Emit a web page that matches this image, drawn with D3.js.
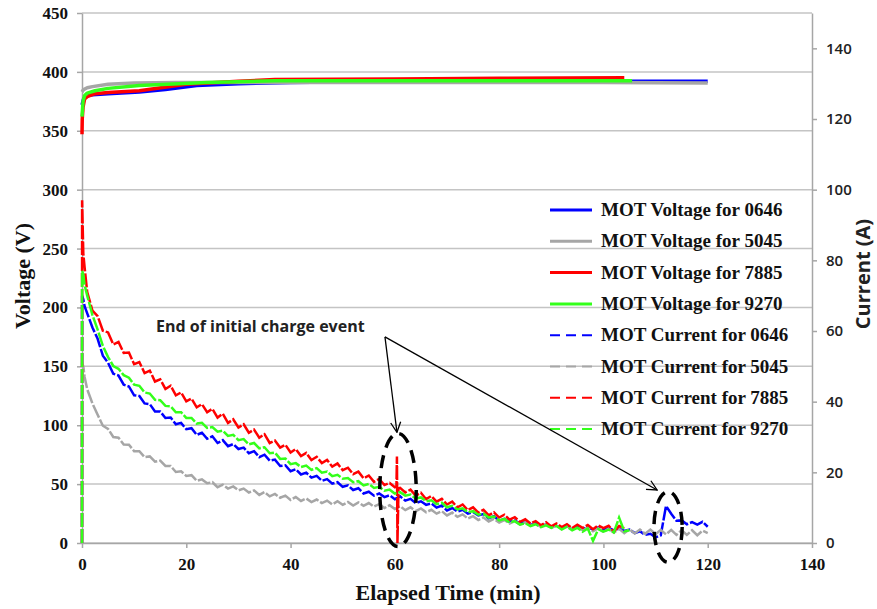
<!DOCTYPE html>
<meta charset="utf-8">
<head>
<title>MOT Voltage and Current</title>
<script src="https://d3js.org/d3.v7.min.js"></script>
<style>
  body { margin: 0; background: #fff; }
</style>
</head>
<body>
<div id="chart"></div>
<script>

    // ---- data ----
    const units = ["0646", "5045", "7885", "9270"];
    const colors = ["#0000ff", "#a6a6a6", "#ff0000", "#33ff1a"];

    const xTicks = [0, 20, 40, 60, 80, 100, 120, 140];
    const voltTicks = [0, 50, 100, 150, 200, 250, 300, 350, 400, 450];
    const ampTicks = [0, 20, 40, 60, 80, 100, 120, 140];

    // MOT voltage (V), time in minutes
    const voltTime0646 = [0, 0.3, 1, 2, 5, 11, 16, 22, 30, 40, 60, 80, 100, 120];
    const volt0646 = [372, 377, 380, 380.5, 381.5, 383, 385, 388.5, 390, 391, 392, 392, 392, 392];
    const voltTime5045 = [0, 0.3, 1, 2, 5, 10, 18, 30, 40, 60, 80, 100, 120];
    const volt5045 = [383, 385, 386.5, 387.5, 389.5, 390.5, 391, 391, 391, 391, 391, 391, 390.5];
    const voltTime7885 = [0, 0.05, 0.2, 0.5, 1, 2.5, 5, 11, 20, 30, 37, 60, 80, 104];
    const volt7885 = [347, 360, 370, 377, 379, 381.5, 382.5, 384, 389.5, 392, 393.5, 394, 394.5, 395];
    const voltTime9270 = [0, 0.2, 0.5, 1, 2.5, 5, 11, 24, 37, 60, 80, 105.5];
    const volt9270 = [362, 375, 380, 382, 384, 386, 388.5, 391, 392.5, 392.5, 392.5, 392.5];

    // MOT current (A): first seconds as [min, A], then one reading per minute from minute 1
    const curHead0646 = [[0, 0], [0.02, 70], [0.25, 69], [0.5, 67]];
    const cur0646 = [65, 61, 57.8, 53, 51, 47.9, 47.4, 44.8, 44.3, 41.8,
        41.6, 39.5, 39.3, 37.2, 37.2, 35.4, 35.5, 33.6, 34, 32.2,
        32.5, 30.6, 31.2, 29.5, 30.2, 28.3, 29.1, 27.4, 28, 26.6,
        27, 25.4, 26, 24.3, 25, 23.3, 23.6, 21.8, 22, 20.3,
        20.9, 19.4, 19.9, 18.5, 19, 17.6, 18.1, 16.8, 17.2, 15.9,
        16.3, 15, 15.5, 14, 14.5, 13.4, 14, 13, 13.5, 12.4,
        13.2, 12, 12.5, 11.3, 11.8, 10.8, 11.2, 10, 10.6, 9.2,
        9.9, 8.9, 9.4, 8.3, 8.8, 7.8, 8.2, 7, 7.6, 6.3,
        6.8, 6, 6.4, 5.5, 5.9, 5.1, 5.6, 4.8, 5.3, 4.5,
        5, 4.3, 4.8, 4, 4.6, 3.9, 4.5, 3.8, 4.4, 3.7,
        4.3, 3.6, 4.1, 3.4, 3.8, 2.8, 3.3, 2.3, 2.6, 1.6,
        2.2, 10.5, 8.3, 6.3, 6.4, 5.3, 5.9, 5.2, 6, 4.6];

    const curHead5045 = [[0, 0], [0.02, 51], [0.25, 50], [0.5, 47]];
    const cur5045 = [43.5, 39.5, 36.3, 33.2, 32.3, 30, 29.8, 27.9, 27.8, 26,
        26, 24.3, 24.5, 23, 23.3, 21.8, 21.8, 20.1, 20.3, 19,
        19.2, 17.6, 18, 16.9, 17.2, 15.8, 16.5, 15.4, 16, 14.9,
        15.4, 14.3, 14.9, 13.6, 14.4, 13.2, 13.9, 12.8, 13.4, 12.2,
        13, 11.9, 12.6, 11.6, 12.3, 11.3, 12, 10.9, 11.8, 10.8,
        11.6, 10.6, 11.5, 10.5, 11.3, 10.3, 11, 9.9, 10.7, 9.6,
        10.4, 9.3, 10.1, 9, 9.8, 8.7, 9.4, 8.3, 9, 7.8,
        8.6, 7.4, 8.1, 6.9, 7.6, 6.5, 7.2, 6.1, 6.8, 5.8,
        6.5, 5.5, 6.2, 5.2, 5.9, 4.9, 5.6, 4.6, 5.3, 4.3,
        5, 4, 4.8, 3.8, 4.6, 3.6, 4.4, 3.3, 4.2, 3.1,
        4.1, 2.9, 4, 2.8, 3.9, 2.7, 3.8, 2.6, 3.8, 2.5,
        3.7, 2.4, 3.7, 2.3, 3.6, 2.3, 3.6, 2.2, 3.5, 2.8];

    const curHead7885 = [[0, 0], [0.02, 97], [0.25, 82], [0.5, 78]];
    const cur7885 = [71, 65.8, 64.2, 60.1, 59.6, 56.2, 56.9, 53.8, 53.9, 50.6,
        51.2, 48.1, 48.8, 45.7, 46.3, 43.6, 44.5, 41.8, 42.6, 40.1,
        40.9, 38.4, 39.3, 37, 38, 35.5, 36.6, 34, 35, 32.7,
        33.6, 31.2, 32.1, 29.8, 30.8, 28.3, 29, 27, 27.8, 25.6,
        26.6, 24.6, 25.5, 23.5, 24.4, 22.6, 23.5, 21.6, 22.5, 20.6,
        21.3, 19.5, 20.2, 18.3, 19.1, 17.3, 18.1, 16.4, 17, 15.8,
        15.6, 14.3, 15.1, 13.4, 14.2, 12.4, 13.3, 11.7, 12.5, 10.9,
        11.7, 10.1, 10.9, 9.3, 10.1, 8.6, 9.4, 7.8, 8.7, 7.2,
        8, 6.6, 7.3, 6, 6.7, 5.5, 6.2, 5, 5.9, 4.7,
        5.5, 4.5, 5.3, 4.2, 5.2, 4.3, 5.1, 3.9, 5, 4.2,
        4.9, 3.2, 4.8, 4.2];
    // short drop at the end of the initial charge event
    const curSpike7885 = [[60.3, 16], [60.4, 24.5], [60.5, 0], [60.7, 15.5]];

    const curHead9270 = [[0, 0], [0.02, 77], [0.25, 76], [0.5, 73]];
    const cur9270 = [70, 64.5, 60.4, 55.8, 52.6, 50.1, 49.3, 47.5, 46.8, 44.8,
        44.5, 42.6, 42.3, 40.5, 40.4, 38.8, 38.7, 37, 37, 35.4,
        35.4, 33.8, 34, 32.6, 32.8, 31.5, 31.8, 30.3, 30.6, 29.1,
        29.4, 27.9, 28.3, 26.8, 27.1, 25.4, 25.6, 23.8, 23.9, 22.3,
        22.6, 21.5, 21.9, 20.7, 21.2, 19.9, 20.2, 18.9, 19.3, 18.2,
        18.4, 17.2, 17.5, 16.3, 16.7, 15.6, 15.9, 14.8, 15.1, 14,
        14.4, 13.4, 13.7, 12.6, 12.9, 11.8, 12.1, 11, 11.4, 10.1,
        10.5, 9.5, 9.8, 8.7, 9, 8, 8.3, 7.2, 7.5, 6.4,
        6.8, 5.8, 6.2, 5.2, 5.6, 4.8, 5.3, 4.5, 5, 4.3,
        4.8, 3.8, 4.6, 3.6, 4.3, 3.2, 4.1, 0.6, 3.9, 3.2,
        3.8, 3, 7.2, 3.3, 3.6];

    // annotation, in data units (minutes, volts)
    const noteText = "End of initial charge event";
    const noteFrom = [58.1, 175];
    const noteTargets = [[60.4, 94], [110.3, 45]];
    const rings = [[60.6, 45, 3.5, 48], [112.4, 13.6, 2.7, 30]];

    // ---- building the series ----
    function pairs(ts, vs) { return ts.map((t, i) => [t, vs[i]]); }
    function perMinute(head, vs) { return head.concat(vs.map((v, i) => [i + 1, v])); }

    const voltSeries = [
        pairs(voltTime0646, volt0646),
        pairs(voltTime5045, volt5045),
        pairs(voltTime7885, volt7885),
        pairs(voltTime9270, volt9270)
    ];
    const curSeries = [
        perMinute(curHead0646, cur0646),
        perMinute(curHead5045, cur5045),
        perMinute(curHead7885, cur7885).concat(curSpike7885).sort((a, b) => a[0] - b[0]),
        perMinute(curHead9270, cur9270)
    ];

    // ---- drawing ----
    const SERIF = '"Liberation Serif", "Times New Roman", serif';
    const SANS = '"Open Sans", "Noto Sans", sans-serif';

    let w = 877;
    let h = 609;
    let m = { left: 82, right: 812, top: 13, bottom: 543 };

    let svg = d3.select("#chart")
                .append("svg")
                .attr("width", w)
                .attr("height", h)

    let x = d3.scaleLinear().domain([0, 140]).range([m.left, m.right]);
    let yV = d3.scaleLinear().domain([0, 450]).range([m.bottom, m.top]);
    let yA = d3.scaleLinear().domain([0, 150]).range([m.bottom, m.top]);

    // gridlines
    svg.append("g")
       .selectAll("line")
       .data(voltTicks)
       .enter()
       .append("line")
       .attr("x1", m.left)
       .attr("x2", m.right)
       .attr("y1", (d) => yV(d))
       .attr("y2", (d) => yV(d))
       .style("stroke", "#c4c4c4")
       .style("stroke-width", 1.5)

    function styleAxis(g, family, size, weight, color) {
        g.select(".domain").style("stroke", "#a6a6a6").style("stroke-width", 1.5);
        g.selectAll(".tick line").style("stroke", "#a6a6a6").style("stroke-width", 1.5);
        g.selectAll("text")
         .style("font-family", family)
         .style("font-size", size)
         .style("font-weight", weight)
         .style("fill", color);
    }

    svg.append("g")
       .attr("transform", `translate(${m.left},0)`)
       .call(d3.axisLeft(yV).tickValues(voltTicks).tickSize(5).tickSizeOuter(0).tickPadding(9))
       .call(styleAxis, SERIF, "17px", "bold", "#111")

    svg.append("g")
       .attr("transform", `translate(${m.right},0)`)
       .call(d3.axisRight(yA).tickValues(ampTicks).tickSize(5).tickSizeOuter(0).tickPadding(9))
       .call(styleAxis, SANS, "15px", "600", "#222")

    svg.append("g")
       .attr("transform", `translate(0,${m.bottom})`)
       .call(d3.axisBottom(x).tickValues(xTicks).tickSize(5).tickSizeOuter(0).tickPadding(10))
       .call(styleAxis, SERIF, "17px", "bold", "#111")

    // axis titles
    svg.append("text")
       .attr("x", (m.left + m.right) / 2 + 1)
       .attr("y", 600)
       .attr("text-anchor", "middle")
       .style("font-family", SERIF)
       .style("font-weight", "bold")
       .style("font-size", "22px")
       .style("fill", "#111")
       .text("Elapsed Time (min)")

    svg.append("text")
       .attr("transform", "translate(30,276) rotate(-90)")
       .attr("text-anchor", "middle")
       .style("font-family", SERIF)
       .style("font-weight", "bold")
       .style("font-size", "22px")
       .style("fill", "#111")
       .text("Voltage (V)")

    svg.append("text")
       .attr("transform", "translate(870,274) rotate(-90)")
       .attr("text-anchor", "middle")
       .style("font-family", SANS)
       .style("font-size", "20px")
       .style("font-weight", "bold")
       .style("fill", "#222")
       .text("Current (A)")

    // lines
    let lineV = d3.line().x((d) => x(d[0])).y((d) => yV(d[1]));
    let lineA = d3.line().x((d) => x(d[0])).y((d) => yA(d[1]));

    svg.append("g")
       .selectAll("path")
       .data(curSeries)
       .enter()
       .append("path")
       .attr("d", lineA)
       .style("fill", "none")
       .style("stroke", (d, i) => colors[i])
       .style("stroke-width", 2.5)
       .style("stroke-dasharray", "14,2")

    svg.append("g")
       .selectAll("path")
       .data(voltSeries)
       .enter()
       .append("path")
       .attr("d", lineV)
       .style("fill", "none")
       .style("stroke", (d, i) => colors[i])
       .style("stroke-width", 3.5)
       .style("stroke-linejoin", "round")

    // legend
    let legendItems = units.map((u, i) => ({ name: "MOT Voltage for " + u, color: colors[i], dash: null }))
        .concat(units.map((u, i) => ({ name: "MOT Current for " + u, color: colors[i], dash: "10,6" })));

    let legend = svg.append("g").attr("transform", "translate(550,210)");
    let rows = legend.selectAll("g")
       .data(legendItems)
       .enter()
       .append("g")
       .attr("transform", (d, i) => `translate(0,${i * 31.3})`)

    rows.append("line")
       .attr("x1", 0)
       .attr("x2", 42)
       .style("stroke", (d) => d.color)
       .style("stroke-width", (d) => d.dash ? 2 : 3)
       .style("stroke-dasharray", (d) => d.dash)

    rows.append("text")
       .attr("x", 51)
       .attr("y", 6)
       .style("font-family", SERIF)
       .style("font-weight", "bold")
       .style("font-size", "19px")
       .style("fill", "#111")
       .text((d) => d.name)

    // annotation
    svg.append("defs")
       .append("marker")
       .attr("id", "arrow")
       .attr("markerUnits", "userSpaceOnUse")
       .attr("viewBox", "0 0 12 12")
       .attr("refX", 11)
       .attr("refY", 6)
       .attr("markerWidth", 12)
       .attr("markerHeight", 12)
       .attr("orient", "auto")
       .append("path")
       .attr("d", "M1,1 L11,6 L1,11")
       .style("fill", "none")
       .style("stroke", "#000")
       .style("stroke-width", 1.3)

    svg.append("text")
       .attr("x", 156)
       .attr("y", 332)
       .style("font-family", SANS)
       .style("font-size", "16px")
       .style("font-weight", "bold")
       .style("fill", "#222")
       .text(noteText)

    svg.append("g")
       .selectAll("line")
       .data(noteTargets)
       .enter()
       .append("line")
       .attr("x1", x(noteFrom[0]))
       .attr("y1", yV(noteFrom[1]))
       .attr("x2", (d) => x(d[0]))
       .attr("y2", (d) => yV(d[1]))
       .style("stroke", "#000")
       .style("stroke-width", 1.3)
       .attr("marker-end", "url(#arrow)")

    svg.append("g")
       .selectAll("ellipse")
       .data(rings)
       .enter()
       .append("ellipse")
       .attr("cx", (d) => x(d[0]))
       .attr("cy", (d) => yV(d[1]))
       .attr("rx", (d) => x(d[2]) - x(0))
       .attr("ry", (d) => yV(0) - yV(d[3]))
       .style("fill", "none")
       .style("stroke", "#000")
       .style("stroke-width", 3.5)
       .style("stroke-dasharray", "13,8")

</script>
</body>
